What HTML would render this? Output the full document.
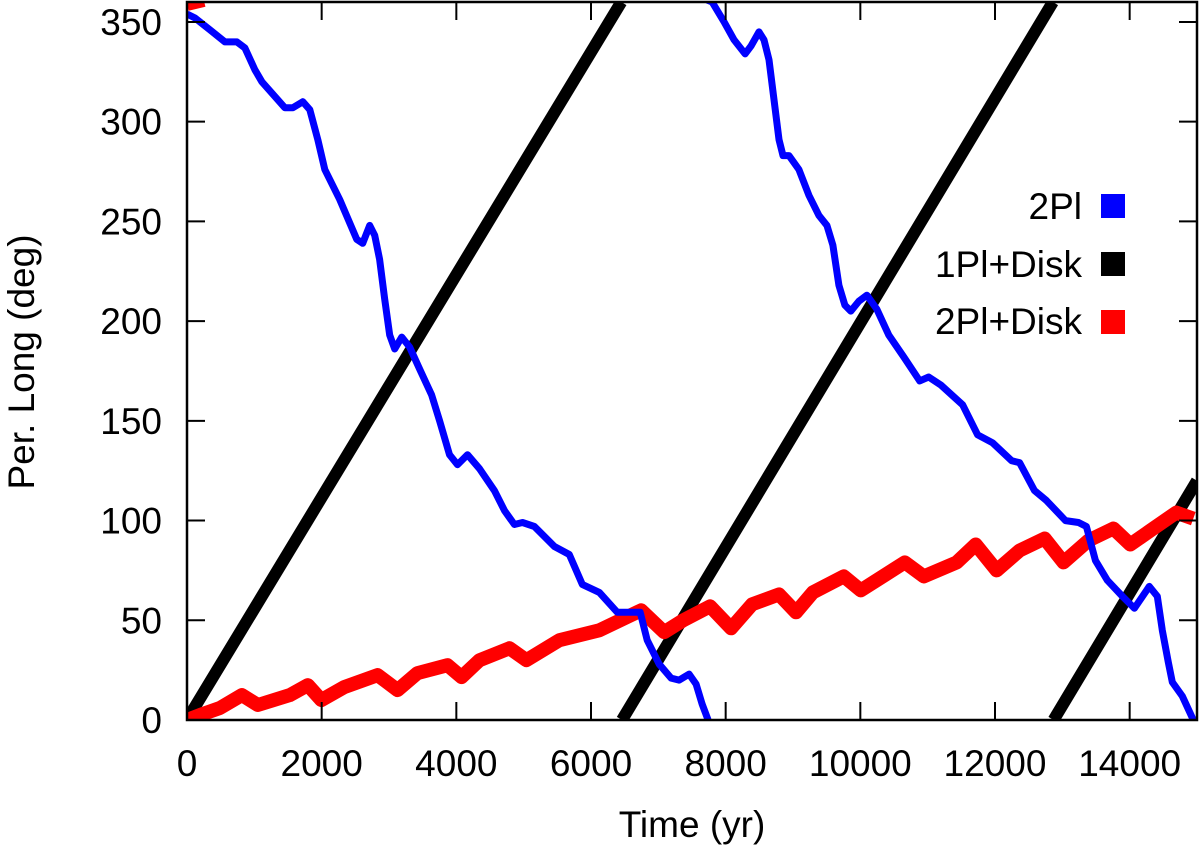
<!DOCTYPE html>
<html><head><meta charset="utf-8"><style>
html,body{margin:0;padding:0;background:#fff;}
svg{display:block;font-family:"Liberation Sans",Arial,sans-serif;}
</style></head><body>
<svg id="chart" width="1200" height="848" viewBox="0 0 1200 848">
<defs><clipPath id="clip"><rect x="187" y="2" width="1010" height="718"/></clipPath></defs>
<g id="marks" clip-path="url(#clip)"></g>
<rect x="187" y="2" width="1010" height="718" fill="none" stroke="#000" stroke-width="2.5"/>
<g id="axes"></g>
<text x="34" y="362" font-size="37" text-anchor="middle" transform="rotate(-90 34 362)">Per. Long (deg)</text>
<text x="692" y="837" font-size="37" text-anchor="middle">Time (yr)</text>
<g>
<g><text x="1082" y="219" font-size="37" text-anchor="end">2Pl</text><rect x="1101" y="194" width="24" height="24" fill="#0000ff"/></g>
<g><text x="1082" y="277" font-size="37" text-anchor="end">1Pl+Disk</text><rect x="1101" y="252" width="24" height="24" fill="#000"/></g>
<g><text x="1082" y="334" font-size="37" text-anchor="end">2Pl+Disk</text><rect x="1101" y="310" width="24" height="24" fill="#ff0000"/></g>
</g>
</svg>
<script>
const xTicks=[0,2000,4000,6000,8000,10000,12000,14000];
const yTicks=[0,50,100,150,200,250,300,350];
const blackT=[0,6450,6460,12860,12870,15000];
const blackV=[0,360,0,360,0,120];
const blueT=[0,119,341,563,741,860,1008,1112,1453,1572,1720,1824,1942,2046,2268,2520,2609,2713,2787,2861,2936,3010,3084,3188,3306,3454,3632,3751,3899,4018,4166,4344,4566,4715,4863,4982,5160,5456,5678,5871,6123,6390,6568,6731,6835,7013,7190,7309,7457,7561,7650,7739,7724,7798,7976,8125,8288,8377,8495,8569,8644,8718,8792,8851,8940,9088,9237,9385,9504,9593,9682,9771,9859,9978,10097,10245,10423,10645,10882,11016,11194,11520,11742,11964,12246,12365,12587,12765,13047,13240,13358,13491,13669,13892,14070,14292,14411,14485,14574,14633,14781,14945];
const blueV=[354,352,346,340,340,337,326,320,307,307,310,306,291,276,261,241,239,248,243,231,211,193,186,192,187,176,163,150,133,128,133,126,115,105,98,99,97,87,83,68,64,54,54,54,40,28,21,20,23,18,8,0,361,360,350,341,334,338,345,341,331,311,291,283,283,276,263,253,248,238,218,208,205,210,213,206,193,182,170,172,168,158,143,139,130,129,115,110,100,99,97,80,70,62,56,67,62,45,29,19,12,0];
const redT=[0,193,489,815,1053,1527,1794,1994,2335,2831,3128,3424,3869,4077,4344,4789,5041,5530,6123,6746,7087,7369,7769,8080,8392,8792,9044,9296,9755,10007,10660,10942,11431,11713,12024,12365,12736,13017,13388,13758,14010,14351,14692,14945];
const redV=[0,2.5,6,12.5,7.5,12.5,17.5,10,16.5,22.5,15,23.5,27.5,21.5,30,36,30,40,45,55,44,50,57,46,58,63,54,64,72,65,79,72,79,88,75,85,91,79,90,96,88,96,104,101];
const redWrapT=[0,250];
const redWrapV=[359,361];

const X0=187,X1=1197,Y0=720,Y1=2;
const xs=t=>X0+(t/15000)*(X1-X0);
const ys=v=>Y0-(v/360)*(Y0-Y1);
const NS='http://www.w3.org/2000/svg';
const marks=document.getElementById('marks');
const axes=document.getElementById('axes');

function drawSeries(T,V,color,w,name){
  let segs=[[]];
  for(let i=0;i<T.length;i++){
    if(i>0&&Math.abs(V[i]-V[i-1])>180&&Math.abs(T[i]-T[i-1])<300)segs.push([]);
    segs[segs.length-1].push([xs(T[i]),ys(V[i])]);
  }
  segs.forEach(s=>{
    if(s.length<2)return;
    const p=document.createElementNS(NS,'polyline');
    p.setAttribute('points',s.map(q=>q[0].toFixed(1)+','+q[1].toFixed(1)).join(' '));
    p.setAttribute('fill','none');p.setAttribute('stroke',color);
    p.setAttribute('stroke-width',w);p.setAttribute('stroke-linejoin','round');p.setAttribute('stroke-linecap','butt');
    
    
    marks.appendChild(p);
  });
}
drawSeries(blackT,blackV,'#000',12,'series-1pl-disk');
drawSeries(redT,redV,'#ff0000',14,'series-2pl-disk');
drawSeries(redWrapT,redWrapV,'#ff0000',14,'series-2pl-disk-wrap');
drawSeries(blueT,blueV,'#0000ff',7,'series-2pl');

xTicks.forEach(t=>{
  const x=xs(t);
  [[Y0,Y0-18],[Y1,Y1+18]].forEach(([a,b])=>{
    const l=document.createElementNS(NS,'line');
    l.setAttribute('x1',x);l.setAttribute('x2',x);l.setAttribute('y1',a);l.setAttribute('y2',b);
    l.setAttribute('stroke','#000');l.setAttribute('stroke-width','2');
    
    
    axes.appendChild(l);
  });
  const tx=document.createElementNS(NS,'text');
  tx.setAttribute('x',x);tx.setAttribute('y',776);tx.setAttribute('font-size','37');tx.setAttribute('text-anchor','middle');
  tx.textContent=t;
  
  
  axes.appendChild(tx);
});
yTicks.forEach(v=>{
  const y=ys(v);
  [[X0,X0+18],[X1,X1-18]].forEach(([a,b])=>{
    const l=document.createElementNS(NS,'line');
    l.setAttribute('x1',a);l.setAttribute('x2',b);l.setAttribute('y1',y);l.setAttribute('y2',y);
    l.setAttribute('stroke','#000');l.setAttribute('stroke-width','2');
    
    
    axes.appendChild(l);
  });
  const tx=document.createElementNS(NS,'text');
  tx.setAttribute('x',162);tx.setAttribute('y',y+13);tx.setAttribute('font-size','37');tx.setAttribute('text-anchor','end');
  tx.textContent=v;
  
  
  axes.appendChild(tx);
});
</script>
</body></html>
